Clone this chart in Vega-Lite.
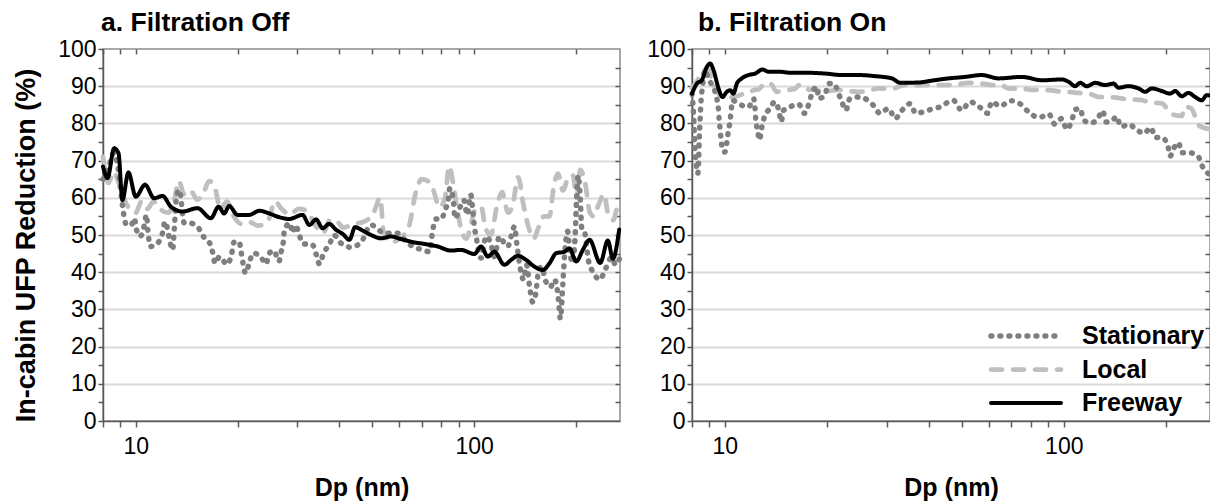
{
  "$schema": "https://vega.github.io/schema/vega-lite/v6.json",
  "background": "white",
  "padding": {"left": 11, "top": 8, "right": 0, "bottom": 0},
  "spacing": 21,
  "config": {
    "font": "Liberation Sans",
    "view": {"stroke": "#8c8c8c", "strokeWidth": 1.5},
    "axis": {"labelFont": "Liberation Sans", "labelFontSize": 23, "labelColor": "#000000", "titleFont": "Liberation Sans", "titleFontSize": 25, "titleFontWeight": "bold", "titleColor": "#000000", "domainColor": "#595959", "domainWidth": 1.5, "tickColor": "#595959", "tickWidth": 1.5, "labelFlush": false, "labelOverlap": false},
    "title": {"font": "Liberation Sans", "fontSize": 26.5, "fontWeight": "bold", "anchor": "start", "frame": "group", "color": "#000000", "offset": 2},
    "legend": {"orient": "bottom-right", "labelFont": "Liberation Sans", "labelFontSize": 25, "labelFontWeight": "bold", "labelColor": "#000000", "rowPadding": 4, "labelOffset": 39, "offset": 5, "padding": 0}
  },
  "data": {"values": [
    {"panel":"a","series":"Local","dp":8.0,"val":71},{"panel":"a","series":"Local","dp":8.3,"val":64},{"panel":"a","series":"Local","dp":8.6,"val":67},{"panel":"a","series":"Local","dp":8.9,"val":64},{"panel":"a","series":"Local","dp":9.2,"val":60},{"panel":"a","series":"Local","dp":9.6,"val":57},{"panel":"a","series":"Local","dp":10.0,"val":56},{"panel":"a","series":"Local","dp":10.4,"val":59},{"panel":"a","series":"Local","dp":10.8,"val":57},{"panel":"a","series":"Local","dp":11.3,"val":59},{"panel":"a","series":"Local","dp":11.8,"val":57},{"panel":"a","series":"Local","dp":12.4,"val":56},{"panel":"a","series":"Local","dp":12.9,"val":58},{"panel":"a","series":"Local","dp":13.4,"val":64.5},{"panel":"a","series":"Local","dp":13.9,"val":61},{"panel":"a","series":"Local","dp":14.5,"val":62},{"panel":"a","series":"Local","dp":15.2,"val":59.5},{"panel":"a","series":"Local","dp":15.8,"val":61},{"panel":"a","series":"Local","dp":16.5,"val":64.5},{"panel":"a","series":"Local","dp":17.1,"val":63},{"panel":"a","series":"Local","dp":17.8,"val":57},{"panel":"a","series":"Local","dp":18.6,"val":59},{"panel":"a","series":"Local","dp":19.5,"val":55},{"panel":"a","series":"Local","dp":20.5,"val":53},{"panel":"a","series":"Local","dp":21.6,"val":53.5},{"panel":"a","series":"Local","dp":23,"val":52.5},{"panel":"a","series":"Local","dp":24.5,"val":53.5},{"panel":"a","series":"Local","dp":25.8,"val":59},{"panel":"a","series":"Local","dp":27,"val":57},{"panel":"a","series":"Local","dp":28.5,"val":55.5},{"panel":"a","series":"Local","dp":30.3,"val":57},{"panel":"a","series":"Local","dp":32,"val":56.5},{"panel":"a","series":"Local","dp":34,"val":52.5},{"panel":"a","series":"Local","dp":35.8,"val":50.5},{"panel":"a","series":"Local","dp":37.5,"val":54},{"panel":"a","series":"Local","dp":39.5,"val":53.5},{"panel":"a","series":"Local","dp":41,"val":52},{"panel":"a","series":"Local","dp":44,"val":53},{"panel":"a","series":"Local","dp":47,"val":53.5},{"panel":"a","series":"Local","dp":50.5,"val":56},{"panel":"a","series":"Local","dp":52.8,"val":60},{"panel":"a","series":"Local","dp":54,"val":51},{"panel":"a","series":"Local","dp":57,"val":48},{"panel":"a","series":"Local","dp":60,"val":49},{"panel":"a","series":"Local","dp":64,"val":52},{"panel":"a","series":"Local","dp":67.5,"val":62},{"panel":"a","series":"Local","dp":70,"val":65},{"panel":"a","series":"Local","dp":73,"val":64.5},{"panel":"a","series":"Local","dp":75.5,"val":62.5},{"panel":"a","series":"Local","dp":79,"val":57.5},{"panel":"a","series":"Local","dp":82,"val":60},{"panel":"a","series":"Local","dp":84.5,"val":68.5},{"panel":"a","series":"Local","dp":87,"val":63},{"panel":"a","series":"Local","dp":89.5,"val":56},{"panel":"a","series":"Local","dp":92,"val":51},{"panel":"a","series":"Local","dp":95,"val":49},{"panel":"a","series":"Local","dp":98,"val":53},{"panel":"a","series":"Local","dp":101,"val":57},{"panel":"a","series":"Local","dp":105,"val":57.5},{"panel":"a","series":"Local","dp":108,"val":52},{"panel":"a","series":"Local","dp":112,"val":50},{"panel":"a","series":"Local","dp":117,"val":58},{"panel":"a","series":"Local","dp":121,"val":61.5},{"panel":"a","series":"Local","dp":126,"val":56},{"panel":"a","series":"Local","dp":130,"val":58},{"panel":"a","series":"Local","dp":135,"val":65.5},{"panel":"a","series":"Local","dp":140,"val":58},{"panel":"a","series":"Local","dp":145,"val":52},{"panel":"a","series":"Local","dp":150,"val":49},{"panel":"a","series":"Local","dp":155,"val":52},{"panel":"a","series":"Local","dp":161,"val":55},{"panel":"a","series":"Local","dp":167,"val":55},{"panel":"a","series":"Local","dp":172,"val":63},{"panel":"a","series":"Local","dp":177,"val":66.5},{"panel":"a","series":"Local","dp":183,"val":62},{"panel":"a","series":"Local","dp":190,"val":65.5},{"panel":"a","series":"Local","dp":196,"val":66},{"panel":"a","series":"Local","dp":201,"val":60},{"panel":"a","series":"Local","dp":206,"val":67.5},{"panel":"a","series":"Local","dp":213,"val":64},{"panel":"a","series":"Local","dp":220,"val":56},{"panel":"a","series":"Local","dp":226,"val":55},{"panel":"a","series":"Local","dp":233,"val":58},{"panel":"a","series":"Local","dp":242,"val":61},{"panel":"a","series":"Local","dp":250,"val":55},{"panel":"a","series":"Local","dp":258,"val":54},{"panel":"a","series":"Local","dp":265,"val":57},{"panel":"a","series":"Local","dp":270,"val":55},

    {"panel":"a","series":"Stationary","dp":8.0,"val":65},{"panel":"a","series":"Stationary","dp":8.3,"val":68},{"panel":"a","series":"Stationary","dp":8.6,"val":72},{"panel":"a","series":"Stationary","dp":8.9,"val":67},{"panel":"a","series":"Stationary","dp":9.1,"val":59},{"panel":"a","series":"Stationary","dp":9.2,"val":55.8},{"panel":"a","series":"Stationary","dp":9.4,"val":52.7},{"panel":"a","series":"Stationary","dp":9.7,"val":52.7},{"panel":"a","series":"Stationary","dp":9.9,"val":54.5},{"panel":"a","series":"Stationary","dp":10.05,"val":51.4},{"panel":"a","series":"Stationary","dp":10.3,"val":49.6},{"panel":"a","series":"Stationary","dp":10.6,"val":52.7},{"panel":"a","series":"Stationary","dp":10.75,"val":55.4},{"panel":"a","series":"Stationary","dp":10.9,"val":49.7},{"panel":"a","series":"Stationary","dp":11.05,"val":46.9},{"panel":"a","series":"Stationary","dp":11.6,"val":47.8},{"panel":"a","series":"Stationary","dp":12.0,"val":50.6},{"panel":"a","series":"Stationary","dp":12.2,"val":53.6},{"panel":"a","series":"Stationary","dp":12.4,"val":51.8},{"panel":"a","series":"Stationary","dp":12.6,"val":48.5},{"panel":"a","series":"Stationary","dp":12.85,"val":46},{"panel":"a","series":"Stationary","dp":13.0,"val":51.8},{"panel":"a","series":"Stationary","dp":13.2,"val":60.3},{"panel":"a","series":"Stationary","dp":13.45,"val":62.1},{"panel":"a","series":"Stationary","dp":13.9,"val":53.3},{"panel":"a","series":"Stationary","dp":14.3,"val":53.3},{"panel":"a","series":"Stationary","dp":15.2,"val":52.3},{"panel":"a","series":"Stationary","dp":15.9,"val":49.4},{"panel":"a","series":"Stationary","dp":16.5,"val":48},{"panel":"a","series":"Stationary","dp":16.9,"val":45.1},{"panel":"a","series":"Stationary","dp":17.15,"val":42.4},{"panel":"a","series":"Stationary","dp":17.7,"val":44.2},{"panel":"a","series":"Stationary","dp":18.6,"val":42.1},{"panel":"a","series":"Stationary","dp":19.2,"val":44.9},{"panel":"a","series":"Stationary","dp":19.5,"val":48},{"panel":"a","series":"Stationary","dp":20.2,"val":48.2},{"panel":"a","series":"Stationary","dp":20.5,"val":45.3},{"panel":"a","series":"Stationary","dp":20.75,"val":42.4},{"panel":"a","series":"Stationary","dp":21.1,"val":39.7},{"panel":"a","series":"Stationary","dp":21.6,"val":42.2},{"panel":"a","series":"Stationary","dp":22.2,"val":45.1},{"panel":"a","series":"Stationary","dp":23.3,"val":44.4},{"panel":"a","series":"Stationary","dp":24.3,"val":42.2},{"panel":"a","series":"Stationary","dp":24.7,"val":44.9},{"panel":"a","series":"Stationary","dp":25.6,"val":45.8},{"panel":"a","series":"Stationary","dp":26.5,"val":42.9},{"panel":"a","series":"Stationary","dp":26.9,"val":45.5},{"panel":"a","series":"Stationary","dp":27.3,"val":48.2},{"panel":"a","series":"Stationary","dp":27.5,"val":51.4},{"panel":"a","series":"Stationary","dp":28.6,"val":53.2},{"panel":"a","series":"Stationary","dp":29.0,"val":50.6},{"panel":"a","series":"Stationary","dp":29.7,"val":52.7},{"panel":"a","series":"Stationary","dp":30.3,"val":50.5},{"panel":"a","series":"Stationary","dp":31.3,"val":47.6},{"panel":"a","series":"Stationary","dp":33.2,"val":47.5},{"panel":"a","series":"Stationary","dp":34.2,"val":44.6},{"panel":"a","series":"Stationary","dp":34.9,"val":42.2},{"panel":"a","series":"Stationary","dp":35.9,"val":45.1},{"panel":"a","series":"Stationary","dp":37.4,"val":47.6},{"panel":"a","series":"Stationary","dp":38.5,"val":50},{"panel":"a","series":"Stationary","dp":40.4,"val":47.8},{"panel":"a","series":"Stationary","dp":43.2,"val":46.7},{"panel":"a","series":"Stationary","dp":46.3,"val":48},{"panel":"a","series":"Stationary","dp":49.6,"val":52.7},{"panel":"a","series":"Stationary","dp":54.3,"val":50.5},{"panel":"a","series":"Stationary","dp":59.5,"val":50.5},{"panel":"a","series":"Stationary","dp":63.0,"val":48.2},{"panel":"a","series":"Stationary","dp":65.9,"val":46.9},{"panel":"a","series":"Stationary","dp":70.6,"val":46},{"panel":"a","series":"Stationary","dp":73.8,"val":45.5},{"panel":"a","series":"Stationary","dp":75.5,"val":51.4},{"panel":"a","series":"Stationary","dp":77.2,"val":54.3},{"panel":"a","series":"Stationary","dp":80.1,"val":54.3},{"panel":"a","series":"Stationary","dp":82.0,"val":56.7},{"panel":"a","series":"Stationary","dp":83.9,"val":59.4},{"panel":"a","series":"Stationary","dp":84.8,"val":62.6},{"panel":"a","series":"Stationary","dp":86.8,"val":59.4},{"panel":"a","series":"Stationary","dp":87.8,"val":54.5},{"panel":"a","series":"Stationary","dp":91.0,"val":57.6},{"panel":"a","series":"Stationary","dp":93.2,"val":59.4},{"panel":"a","series":"Stationary","dp":95.5,"val":55.4},{"panel":"a","series":"Stationary","dp":97.8,"val":60.8},{"panel":"a","series":"Stationary","dp":98.9,"val":57.6},{"panel":"a","series":"Stationary","dp":100.2,"val":52.3},{"panel":"a","series":"Stationary","dp":101.4,"val":49.6},{"panel":"a","series":"Stationary","dp":104.9,"val":43.8},{"panel":"a","series":"Stationary","dp":108.4,"val":49.6},{"panel":"a","series":"Stationary","dp":112.0,"val":47.8},{"panel":"a","series":"Stationary","dp":114.8,"val":44.2},{"panel":"a","series":"Stationary","dp":118.8,"val":49.6},{"panel":"a","series":"Stationary","dp":122.9,"val":47.8},{"panel":"a","series":"Stationary","dp":125.8,"val":46.9},{"panel":"a","series":"Stationary","dp":128.7,"val":49.6},{"panel":"a","series":"Stationary","dp":131.7,"val":52.3},{"panel":"a","series":"Stationary","dp":134,"val":47},{"panel":"a","series":"Stationary","dp":137,"val":41},{"panel":"a","series":"Stationary","dp":140,"val":38},{"panel":"a","series":"Stationary","dp":143,"val":42},{"panel":"a","series":"Stationary","dp":146,"val":36},{"panel":"a","series":"Stationary","dp":149,"val":32},{"panel":"a","series":"Stationary","dp":152,"val":34},{"panel":"a","series":"Stationary","dp":155,"val":40},{"panel":"a","series":"Stationary","dp":158,"val":41.5},{"panel":"a","series":"Stationary","dp":163,"val":37.5},{"panel":"a","series":"Stationary","dp":168,"val":36},{"panel":"a","series":"Stationary","dp":173,"val":38},{"panel":"a","series":"Stationary","dp":177,"val":34},{"panel":"a","series":"Stationary","dp":180,"val":27.5},{"panel":"a","series":"Stationary","dp":183,"val":37},{"panel":"a","series":"Stationary","dp":186,"val":47},{"panel":"a","series":"Stationary","dp":189,"val":51},{"panel":"a","series":"Stationary","dp":192,"val":45},{"panel":"a","series":"Stationary","dp":196,"val":42.5},{"panel":"a","series":"Stationary","dp":199,"val":50},{"panel":"a","series":"Stationary","dp":201,"val":60},{"panel":"a","series":"Stationary","dp":203,"val":66},{"panel":"a","series":"Stationary","dp":206,"val":60},{"panel":"a","series":"Stationary","dp":208,"val":52},{"panel":"a","series":"Stationary","dp":212,"val":51},{"panel":"a","series":"Stationary","dp":218,"val":43},{"panel":"a","series":"Stationary","dp":225,"val":40},{"panel":"a","series":"Stationary","dp":235,"val":38},{"panel":"a","series":"Stationary","dp":245,"val":41},{"panel":"a","series":"Stationary","dp":255,"val":44},{"panel":"a","series":"Stationary","dp":262,"val":42},{"panel":"a","series":"Stationary","dp":270,"val":44},

    {"panel":"a","series":"Freeway","dp":8.0,"val":68.4},{"panel":"a","series":"Freeway","dp":8.25,"val":65.3},{"panel":"a","series":"Freeway","dp":8.63,"val":73.3},{"panel":"a","series":"Freeway","dp":8.89,"val":72},{"panel":"a","series":"Freeway","dp":9.13,"val":59.4},{"panel":"a","series":"Freeway","dp":9.51,"val":66.8},{"panel":"a","series":"Freeway","dp":10.0,"val":60.3},{"panel":"a","series":"Freeway","dp":10.65,"val":63.5},{"panel":"a","series":"Freeway","dp":11.33,"val":59.9},{"panel":"a","series":"Freeway","dp":12.0,"val":60.5},{"panel":"a","series":"Freeway","dp":12.7,"val":57.6},{"panel":"a","series":"Freeway","dp":13.75,"val":56.3},{"panel":"a","series":"Freeway","dp":15.22,"val":57.2},{"panel":"a","series":"Freeway","dp":16.67,"val":54.5},{"panel":"a","series":"Freeway","dp":17.57,"val":57.6},{"panel":"a","series":"Freeway","dp":18.25,"val":55.8},{"panel":"a","series":"Freeway","dp":18.88,"val":57.8},{"panel":"a","series":"Freeway","dp":20.0,"val":55.4},{"panel":"a","series":"Freeway","dp":21.63,"val":55.4},{"panel":"a","series":"Freeway","dp":23.2,"val":56.5},{"panel":"a","series":"Freeway","dp":24.8,"val":55.8},{"panel":"a","series":"Freeway","dp":26.5,"val":54.8},{"panel":"a","series":"Freeway","dp":28.4,"val":54.3},{"panel":"a","series":"Freeway","dp":31.1,"val":55.4},{"panel":"a","series":"Freeway","dp":32.6,"val":52.7},{"panel":"a","series":"Freeway","dp":34.1,"val":54.2},{"panel":"a","series":"Freeway","dp":35.7,"val":51.8},{"panel":"a","series":"Freeway","dp":37.3,"val":53},{"panel":"a","series":"Freeway","dp":39.1,"val":51.4},{"panel":"a","series":"Freeway","dp":41.0,"val":50.2},{"panel":"a","series":"Freeway","dp":42.8,"val":48.7},{"panel":"a","series":"Freeway","dp":44.5,"val":52.1},{"panel":"a","series":"Freeway","dp":46.8,"val":51.2},{"panel":"a","series":"Freeway","dp":49.6,"val":50},{"panel":"a","series":"Freeway","dp":53.1,"val":49.1},{"panel":"a","series":"Freeway","dp":56.8,"val":49.6},{"panel":"a","series":"Freeway","dp":60.8,"val":48.9},{"panel":"a","series":"Freeway","dp":66.6,"val":48},{"panel":"a","series":"Freeway","dp":71.3,"val":47.6},{"panel":"a","series":"Freeway","dp":78.1,"val":46.9},{"panel":"a","series":"Freeway","dp":85.5,"val":45.8},{"panel":"a","series":"Freeway","dp":91.5,"val":46},{"panel":"a","series":"Freeway","dp":100.2,"val":44.9},{"panel":"a","series":"Freeway","dp":104.9,"val":46.9},{"panel":"a","series":"Freeway","dp":109.8,"val":44.2},{"panel":"a","series":"Freeway","dp":114.8,"val":45.5},{"panel":"a","series":"Freeway","dp":122.9,"val":42},{"panel":"a","series":"Freeway","dp":128.7,"val":43.3},{"panel":"a","series":"Freeway","dp":134.7,"val":44.4},{"panel":"a","series":"Freeway","dp":142.5,"val":43.3},{"panel":"a","series":"Freeway","dp":150.8,"val":41.5},{"panel":"a","series":"Freeway","dp":159.7,"val":40.6},{"panel":"a","series":"Freeway","dp":167.1,"val":42.4},{"panel":"a","series":"Freeway","dp":174.8,"val":45.1},{"panel":"a","series":"Freeway","dp":185.1,"val":45.5},{"panel":"a","series":"Freeway","dp":191.4,"val":46.4},{"panel":"a","series":"Freeway","dp":200.4,"val":42.9},{"panel":"a","series":"Freeway","dp":209.7,"val":46},{"panel":"a","series":"Freeway","dp":219.4,"val":48.7},{"panel":"a","series":"Freeway","dp":236,"val":42.5},{"panel":"a","series":"Freeway","dp":248.6,"val":48.5},{"panel":"a","series":"Freeway","dp":257.3,"val":43.6},{"panel":"a","series":"Freeway","dp":268.5,"val":51.5},

    {"panel":"b","series":"Local","dp":8.0,"val":89.5},{"panel":"b","series":"Local","dp":8.3,"val":91.5},{"panel":"b","series":"Local","dp":8.6,"val":94},{"panel":"b","series":"Local","dp":8.9,"val":94.5},{"panel":"b","series":"Local","dp":9.2,"val":91},{"panel":"b","series":"Local","dp":9.6,"val":88},{"panel":"b","series":"Local","dp":10.0,"val":87},{"panel":"b","series":"Local","dp":10.5,"val":87},{"panel":"b","series":"Local","dp":11.0,"val":87.5},{"panel":"b","series":"Local","dp":11.4,"val":88},{"panel":"b","series":"Local","dp":11.8,"val":88.3},{"panel":"b","series":"Local","dp":12.2,"val":89},{"panel":"b","series":"Local","dp":12.6,"val":89.2},{"panel":"b","series":"Local","dp":13.1,"val":90.7},{"panel":"b","series":"Local","dp":13.7,"val":90.5},{"panel":"b","series":"Local","dp":14.2,"val":88.5},{"panel":"b","series":"Local","dp":14.9,"val":88.7},{"panel":"b","series":"Local","dp":15.5,"val":89},{"panel":"b","series":"Local","dp":16.1,"val":89.3},{"panel":"b","series":"Local","dp":16.6,"val":90.3},{"panel":"b","series":"Local","dp":17.2,"val":90.1},{"panel":"b","series":"Local","dp":17.8,"val":89},{"panel":"b","series":"Local","dp":18.4,"val":89.2},{"panel":"b","series":"Local","dp":19.3,"val":88.5},{"panel":"b","series":"Local","dp":20.2,"val":88.7},{"panel":"b","series":"Local","dp":21.7,"val":89},{"panel":"b","series":"Local","dp":22.6,"val":88.8},{"panel":"b","series":"Local","dp":24.8,"val":88.5},{"panel":"b","series":"Local","dp":25.9,"val":88.6},{"panel":"b","series":"Local","dp":28.4,"val":89.4},{"panel":"b","series":"Local","dp":31.1,"val":89.3},{"panel":"b","series":"Local","dp":33.9,"val":90.3},{"panel":"b","series":"Local","dp":35.6,"val":90.2},{"panel":"b","series":"Local","dp":38.1,"val":90.3},{"panel":"b","series":"Local","dp":40.8,"val":90.3},{"panel":"b","series":"Local","dp":46.7,"val":90.3},{"panel":"b","series":"Local","dp":52.5,"val":90.9},{"panel":"b","series":"Local","dp":56.2,"val":90.8},{"panel":"b","series":"Local","dp":61.3,"val":90.3},{"panel":"b","series":"Local","dp":65.6,"val":90.2},{"panel":"b","series":"Local","dp":68.7,"val":89.4},{"panel":"b","series":"Local","dp":75.2,"val":89.3},{"panel":"b","series":"Local","dp":82,"val":89},{"panel":"b","series":"Local","dp":92.2,"val":88.9},{"panel":"b","series":"Local","dp":98.6,"val":88.5},{"panel":"b","series":"Local","dp":105.7,"val":88.4},{"panel":"b","series":"Local","dp":110,"val":88.2},{"panel":"b","series":"Local","dp":118.8,"val":88},{"panel":"b","series":"Local","dp":127,"val":87.1},{"panel":"b","series":"Local","dp":140,"val":87},{"panel":"b","series":"Local","dp":153.7,"val":86.5},{"panel":"b","series":"Local","dp":168.5,"val":86.3},{"panel":"b","series":"Local","dp":181,"val":85.6},{"panel":"b","series":"Local","dp":194.6,"val":85.4},{"panel":"b","series":"Local","dp":208,"val":82.5},{"panel":"b","series":"Local","dp":222.9,"val":82},{"panel":"b","series":"Local","dp":227.5,"val":84.5},{"panel":"b","series":"Local","dp":238,"val":84},{"panel":"b","series":"Local","dp":250,"val":79.5},{"panel":"b","series":"Local","dp":268,"val":78.5},

    {"panel":"b","series":"Stationary","dp":8.0,"val":88},{"panel":"b","series":"Stationary","dp":8.09,"val":81.8},{"panel":"b","series":"Stationary","dp":8.14,"val":75.5},{"panel":"b","series":"Stationary","dp":8.21,"val":70.1},{"panel":"b","series":"Stationary","dp":8.32,"val":66.5},{"panel":"b","series":"Stationary","dp":8.36,"val":69.2},{"panel":"b","series":"Stationary","dp":8.4,"val":75.5},{"panel":"b","series":"Stationary","dp":8.45,"val":80.9},{"panel":"b","series":"Stationary","dp":8.51,"val":86.2},{"panel":"b","series":"Stationary","dp":8.59,"val":89.8},{"panel":"b","series":"Stationary","dp":8.73,"val":94.3},{"panel":"b","series":"Stationary","dp":8.95,"val":92},{"panel":"b","series":"Stationary","dp":9.47,"val":86.7},{"panel":"b","series":"Stationary","dp":9.58,"val":83.5},{"panel":"b","series":"Stationary","dp":9.62,"val":80.9},{"panel":"b","series":"Stationary","dp":9.69,"val":78.2},{"panel":"b","series":"Stationary","dp":9.75,"val":75.5},{"panel":"b","series":"Stationary","dp":9.84,"val":72.8},{"panel":"b","series":"Stationary","dp":10.0,"val":72.3},{"panel":"b","series":"Stationary","dp":10.14,"val":75},{"panel":"b","series":"Stationary","dp":10.25,"val":78.2},{"panel":"b","series":"Stationary","dp":10.37,"val":80.9},{"panel":"b","series":"Stationary","dp":10.44,"val":83.5},{"panel":"b","series":"Stationary","dp":10.54,"val":86.2},{"panel":"b","series":"Stationary","dp":10.97,"val":85.3},{"panel":"b","series":"Stationary","dp":11.75,"val":84.4},{"panel":"b","series":"Stationary","dp":12.15,"val":86.7},{"panel":"b","series":"Stationary","dp":12.29,"val":83.5},{"panel":"b","series":"Stationary","dp":12.34,"val":80.9},{"panel":"b","series":"Stationary","dp":12.49,"val":78.2},{"panel":"b","series":"Stationary","dp":12.65,"val":75.5},{"panel":"b","series":"Stationary","dp":12.86,"val":79.1},{"panel":"b","series":"Stationary","dp":13.09,"val":81.8},{"panel":"b","series":"Stationary","dp":13.58,"val":84},{"panel":"b","series":"Stationary","dp":14.05,"val":85.8},{"panel":"b","series":"Stationary","dp":14.46,"val":83.1},{"panel":"b","series":"Stationary","dp":14.66,"val":80.4},{"panel":"b","series":"Stationary","dp":14.9,"val":83.5},{"panel":"b","series":"Stationary","dp":15.55,"val":84.4},{"panel":"b","series":"Stationary","dp":16.49,"val":85.2},{"panel":"b","series":"Stationary","dp":17.21,"val":82.7},{"panel":"b","series":"Stationary","dp":17.65,"val":84.9},{"panel":"b","series":"Stationary","dp":18.06,"val":88},{"panel":"b","series":"Stationary","dp":18.69,"val":89.8},{"panel":"b","series":"Stationary","dp":18.91,"val":86.7},{"panel":"b","series":"Stationary","dp":19.74,"val":87.6},{"panel":"b","series":"Stationary","dp":20.2,"val":90.7},{"panel":"b","series":"Stationary","dp":20.9,"val":90.7},{"panel":"b","series":"Stationary","dp":22.13,"val":85.8},{"panel":"b","series":"Stationary","dp":22.75,"val":83.5},{"panel":"b","series":"Stationary","dp":23.38,"val":86.7},{"panel":"b","series":"Stationary","dp":25.0,"val":87.1},{"panel":"b","series":"Stationary","dp":27.4,"val":84.9},{"panel":"b","series":"Stationary","dp":28.7,"val":82.7},{"panel":"b","series":"Stationary","dp":30.4,"val":84},{"panel":"b","series":"Stationary","dp":31.8,"val":81.3},{"panel":"b","series":"Stationary","dp":33.3,"val":83.5},{"panel":"b","series":"Stationary","dp":35.2,"val":85.3},{"panel":"b","series":"Stationary","dp":36.6,"val":82.7},{"panel":"b","series":"Stationary","dp":38.5,"val":83.1},{"panel":"b","series":"Stationary","dp":41.3,"val":84},{"panel":"b","series":"Stationary","dp":43.7,"val":84.6},{"panel":"b","series":"Stationary","dp":45.7,"val":85.8},{"panel":"b","series":"Stationary","dp":47.2,"val":86.2},{"panel":"b","series":"Stationary","dp":50.0,"val":83.5},{"panel":"b","series":"Stationary","dp":52.8,"val":85.8},{"panel":"b","series":"Stationary","dp":56.6,"val":84.3},{"panel":"b","series":"Stationary","dp":59.6,"val":82.7},{"panel":"b","series":"Stationary","dp":61.3,"val":85.8},{"panel":"b","series":"Stationary","dp":64.9,"val":84.6},{"panel":"b","series":"Stationary","dp":69.5,"val":86.1},{"panel":"b","series":"Stationary","dp":74.5,"val":85.2},{"panel":"b","series":"Stationary","dp":79.3,"val":82.8},{"panel":"b","series":"Stationary","dp":84.5,"val":81.6},{"panel":"b","series":"Stationary","dp":90.4,"val":82.5},{"panel":"b","series":"Stationary","dp":94.0,"val":79.8},{"panel":"b","series":"Stationary","dp":98.6,"val":81.3},{"panel":"b","series":"Stationary","dp":102.1,"val":78.4},{"panel":"b","series":"Stationary","dp":105.7,"val":80.9},{"panel":"b","series":"Stationary","dp":108.1,"val":83.7},{"panel":"b","series":"Stationary","dp":111.7,"val":84},{"panel":"b","series":"Stationary","dp":114.4,"val":81},{"panel":"b","series":"Stationary","dp":119.6,"val":80.1},{"panel":"b","series":"Stationary","dp":125.2,"val":80.9},{"panel":"b","series":"Stationary","dp":130.2,"val":83.4},{"panel":"b","series":"Stationary","dp":133.3,"val":80.4},{"panel":"b","series":"Stationary","dp":139.2,"val":80.7},{"panel":"b","series":"Stationary","dp":142.7,"val":81.9},{"panel":"b","series":"Stationary","dp":147.9,"val":79.1},{"panel":"b","series":"Stationary","dp":155.2,"val":79.8},{"panel":"b","series":"Stationary","dp":163.5,"val":78.4},{"panel":"b","series":"Stationary","dp":172.4,"val":77.3},{"panel":"b","series":"Stationary","dp":180.6,"val":78.9},{"panel":"b","series":"Stationary","dp":186.3,"val":76.2},{"panel":"b","series":"Stationary","dp":194.6,"val":76.2},{"panel":"b","series":"Stationary","dp":202.7,"val":74.1},{"panel":"b","series":"Stationary","dp":205.9,"val":71.2},{"panel":"b","series":"Stationary","dp":210.7,"val":73.2},{"panel":"b","series":"Stationary","dp":218,"val":74.8},{"panel":"b","series":"Stationary","dp":222.9,"val":72.1},{"panel":"b","series":"Stationary","dp":234.5,"val":72.1},{"panel":"b","series":"Stationary","dp":248.9,"val":71.2},{"panel":"b","series":"Stationary","dp":256.9,"val":68.3},{"panel":"b","series":"Stationary","dp":268.8,"val":66.3},

    {"panel":"b","series":"Freeway","dp":8.0,"val":88},{"panel":"b","series":"Freeway","dp":8.27,"val":90.7},{"panel":"b","series":"Freeway","dp":8.55,"val":91.6},{"panel":"b","series":"Freeway","dp":8.85,"val":95.2},{"panel":"b","series":"Freeway","dp":9.05,"val":96.1},{"panel":"b","series":"Freeway","dp":9.26,"val":94.3},{"panel":"b","series":"Freeway","dp":9.58,"val":89.4},{"panel":"b","series":"Freeway","dp":9.84,"val":87.1},{"panel":"b","series":"Freeway","dp":10.14,"val":88.5},{"panel":"b","series":"Freeway","dp":10.37,"val":88.9},{"panel":"b","series":"Freeway","dp":10.6,"val":88},{"panel":"b","series":"Freeway","dp":10.85,"val":90.7},{"panel":"b","series":"Freeway","dp":11.22,"val":92.1},{"panel":"b","series":"Freeway","dp":11.75,"val":93},{"panel":"b","series":"Freeway","dp":12.29,"val":93.4},{"panel":"b","series":"Freeway","dp":12.92,"val":94.5},{"panel":"b","series":"Freeway","dp":13.45,"val":93.9},{"panel":"b","series":"Freeway","dp":14.4,"val":93.9},{"panel":"b","series":"Freeway","dp":15.76,"val":93.6},{"panel":"b","series":"Freeway","dp":17.65,"val":93.6},{"panel":"b","series":"Freeway","dp":19.77,"val":93.4},{"panel":"b","series":"Freeway","dp":22.13,"val":93},{"panel":"b","series":"Freeway","dp":24.8,"val":93},{"panel":"b","series":"Freeway","dp":27.76,"val":92.7},{"panel":"b","series":"Freeway","dp":31.1,"val":92.1},{"panel":"b","series":"Freeway","dp":32.9,"val":90.9},{"panel":"b","series":"Freeway","dp":37.3,"val":91},{"panel":"b","series":"Freeway","dp":40.8,"val":91.5},{"panel":"b","series":"Freeway","dp":45.7,"val":92.1},{"panel":"b","series":"Freeway","dp":51.2,"val":92.5},{"panel":"b","series":"Freeway","dp":57.3,"val":93},{"panel":"b","series":"Freeway","dp":64.2,"val":92.1},{"panel":"b","series":"Freeway","dp":75.2,"val":92.5},{"panel":"b","series":"Freeway","dp":86.1,"val":91.6},{"panel":"b","series":"Freeway","dp":98.6,"val":91.8},{"panel":"b","series":"Freeway","dp":103.3,"val":91.2},{"panel":"b","series":"Freeway","dp":108,"val":90},{"panel":"b","series":"Freeway","dp":111.7,"val":90.9},{"panel":"b","series":"Freeway","dp":116.9,"val":90},{"panel":"b","series":"Freeway","dp":123.7,"val":90.9},{"panel":"b","series":"Freeway","dp":132.4,"val":90.3},{"panel":"b","series":"Freeway","dp":140.2,"val":90.7},{"panel":"b","series":"Freeway","dp":145,"val":89.6},{"panel":"b","series":"Freeway","dp":155.2,"val":90},{"panel":"b","series":"Freeway","dp":166.1,"val":89.4},{"panel":"b","series":"Freeway","dp":173.8,"val":88.5},{"panel":"b","series":"Freeway","dp":181.8,"val":89.4},{"panel":"b","series":"Freeway","dp":194.6,"val":88.7},{"panel":"b","series":"Freeway","dp":205.9,"val":88},{"panel":"b","series":"Freeway","dp":213,"val":88.7},{"panel":"b","series":"Freeway","dp":222.9,"val":87.3},{"panel":"b","series":"Freeway","dp":233.3,"val":88.2},{"panel":"b","series":"Freeway","dp":244,"val":87.1},{"panel":"b","series":"Freeway","dp":255.3,"val":86.2},{"panel":"b","series":"Freeway","dp":264.1,"val":87.6},{"panel":"b","series":"Freeway","dp":270,"val":87.5}
  ]},
  "hconcat": [
    {
      "width": 517, "height": 372,
      "title": {"text": "a. Filtration Off", "dx": -2},
      "transform": [{"filter": "datum.panel == 'a'"}],
      "layer": [
        {
          "mark": {"type": "line", "interpolate": "monotone", "strokeCap": "round", "strokeJoin": "round"},
          "encoding": {
            "x": {"field": "dp", "type": "quantitative", "scale": {"type": "log", "domain": [8, 270], "nice": false},
                  "axis": {"orient": "bottom", "title": "Dp (nm)", "values": [8, 9, 10, 20, 30, 40, 50, 60, 70, 80, 90, 100, 200], "labelExpr": "datum.value == 10 || datum.value == 100 ? datum.label : ''", "grid": false, "tickSize": 6, "labelPadding": 8, "titlePadding": 17}},
            "y": {"field": "val", "type": "quantitative", "scale": {"domain": [0, 100], "nice": false},
                  "axis": {"orient": "left", "title": "In-cabin UFP Reduction (%)", "titleFontSize": 27, "titleY": 196, "values": [0, 5, 10, 15, 20, 25, 30, 35, 40, 45, 50, 55, 60, 65, 70, 75, 80, 85, 90, 95, 100], "labelExpr": "datum.value % 10 == 0 ? datum.label : ''", "grid": true, "gridWidth": 2, "gridColor": {"condition": {"test": "datum.value % 10 == 0 && datum.value > 0 && datum.value < 100", "value": "#d9d9d9"}, "value": "transparent"}, "tickSize": 5, "labelPadding": 2, "titlePadding": 17}},
            "color": {"field": "series", "type": "nominal", "scale": {"domain": ["Stationary", "Local", "Freeway"], "range": ["#7f7f7f", "#bfbfbf", "#000000"]}, "legend": null},
            "strokeDash": {"field": "series", "type": "nominal", "scale": {"domain": ["Stationary", "Local", "Freeway"], "range": [[0.8, 8.2], [11, 11], [1, 0]]}, "legend": null},
            "strokeWidth": {"field": "series", "type": "nominal", "scale": {"domain": ["Stationary", "Local", "Freeway"], "range": [5.5, 4, 3.5]}, "legend": null}
          }
        },
        {
          "mark": {"type": "point", "opacity": 0},
          "encoding": {
            "x": {"field": "dp", "type": "quantitative", "axis": {"orient": "top", "title": null, "labels": false, "domain": false, "grid": false, "tickSize": -5, "values": [8, 9, 10, 20, 30, 40, 50, 60, 70, 80, 90, 100, 200]}},
            "y": {"field": "val", "type": "quantitative", "axis": {"orient": "right", "title": null, "labels": false, "domain": false, "grid": false, "tickSize": -5, "values": [5, 10, 15, 20, 25, 30, 35, 40, 45, 50, 55, 60, 65, 70, 75, 80, 85, 90, 95]}}
          }
        }
      ],
      "resolve": {"axis": {"x": "independent", "y": "independent"}}
    },
    {
      "width": 518, "height": 372,
      "title": {"text": "b. Filtration On", "dx": 6},
      "transform": [{"filter": "datum.panel == 'b'"}],
      "layer": [
        {
          "mark": {"type": "line", "interpolate": "monotone", "strokeCap": "round", "strokeJoin": "round"},
          "encoding": {
            "x": {"field": "dp", "type": "quantitative", "scale": {"type": "log", "domain": [8, 270], "nice": false},
                  "axis": {"orient": "bottom", "title": "Dp (nm)", "values": [8, 9, 10, 20, 30, 40, 50, 60, 70, 80, 90, 100, 200], "labelExpr": "datum.value == 10 || datum.value == 100 ? datum.label : ''", "grid": false, "tickSize": 6, "labelPadding": 8, "titlePadding": 17}},
            "y": {"field": "val", "type": "quantitative", "scale": {"domain": [0, 100], "nice": false},
                  "axis": {"orient": "left", "title": null, "values": [0, 5, 10, 15, 20, 25, 30, 35, 40, 45, 50, 55, 60, 65, 70, 75, 80, 85, 90, 95, 100], "labelExpr": "datum.value % 10 == 0 ? datum.label : ''", "grid": true, "gridWidth": 2, "gridColor": {"condition": {"test": "datum.value % 10 == 0 && datum.value > 0 && datum.value < 100", "value": "#d9d9d9"}, "value": "transparent"}, "tickSize": 5, "labelPadding": 2}},
            "color": {"field": "series", "type": "nominal", "title": null, "scale": {"domain": ["Stationary", "Local", "Freeway"], "range": ["#7f7f7f", "#bfbfbf", "#000000"]}, "legend": {"symbolType": "M-2.5,0H2.5", "symbolSize": 784, "encode": {"symbols": {"update": {"strokeCap": {"value": "round"}}}}}},
            "strokeDash": {"field": "series", "type": "nominal", "title": null, "scale": {"domain": ["Stationary", "Local", "Freeway"], "range": [[0.8, 8.2], [11, 11], [1, 0]]}, "legend": {"symbolType": "M-2.5,0H2.5", "symbolSize": 784, "encode": {"symbols": {"update": {"strokeCap": {"value": "round"}}}}}},
            "strokeWidth": {"field": "series", "type": "nominal", "title": null, "scale": {"domain": ["Stationary", "Local", "Freeway"], "range": [5.5, 4, 3.5]}, "legend": {"symbolType": "M-2.5,0H2.5", "symbolSize": 784, "encode": {"symbols": {"update": {"strokeCap": {"value": "round"}}}}}}
          }
        },
        {
          "mark": {"type": "point", "opacity": 0},
          "encoding": {
            "x": {"field": "dp", "type": "quantitative", "axis": {"orient": "top", "title": null, "labels": false, "domain": false, "grid": false, "tickSize": -5, "values": [8, 9, 10, 20, 30, 40, 50, 60, 70, 80, 90, 100, 200]}},
            "y": {"field": "val", "type": "quantitative", "axis": {"orient": "right", "title": null, "labels": false, "domain": false, "grid": false, "tickSize": -5, "values": [5, 10, 15, 20, 25, 30, 35, 40, 45, 50, 55, 60, 65, 70, 75, 80, 85, 90, 95]}}
          }
        }
      ],
      "resolve": {"axis": {"x": "independent", "y": "independent"}}
    }
  ],
  "resolve": {"scale": {"color": "independent", "strokeDash": "independent", "strokeWidth": "independent"}, "legend": {"color": "independent", "strokeDash": "independent", "strokeWidth": "independent"}}
}
